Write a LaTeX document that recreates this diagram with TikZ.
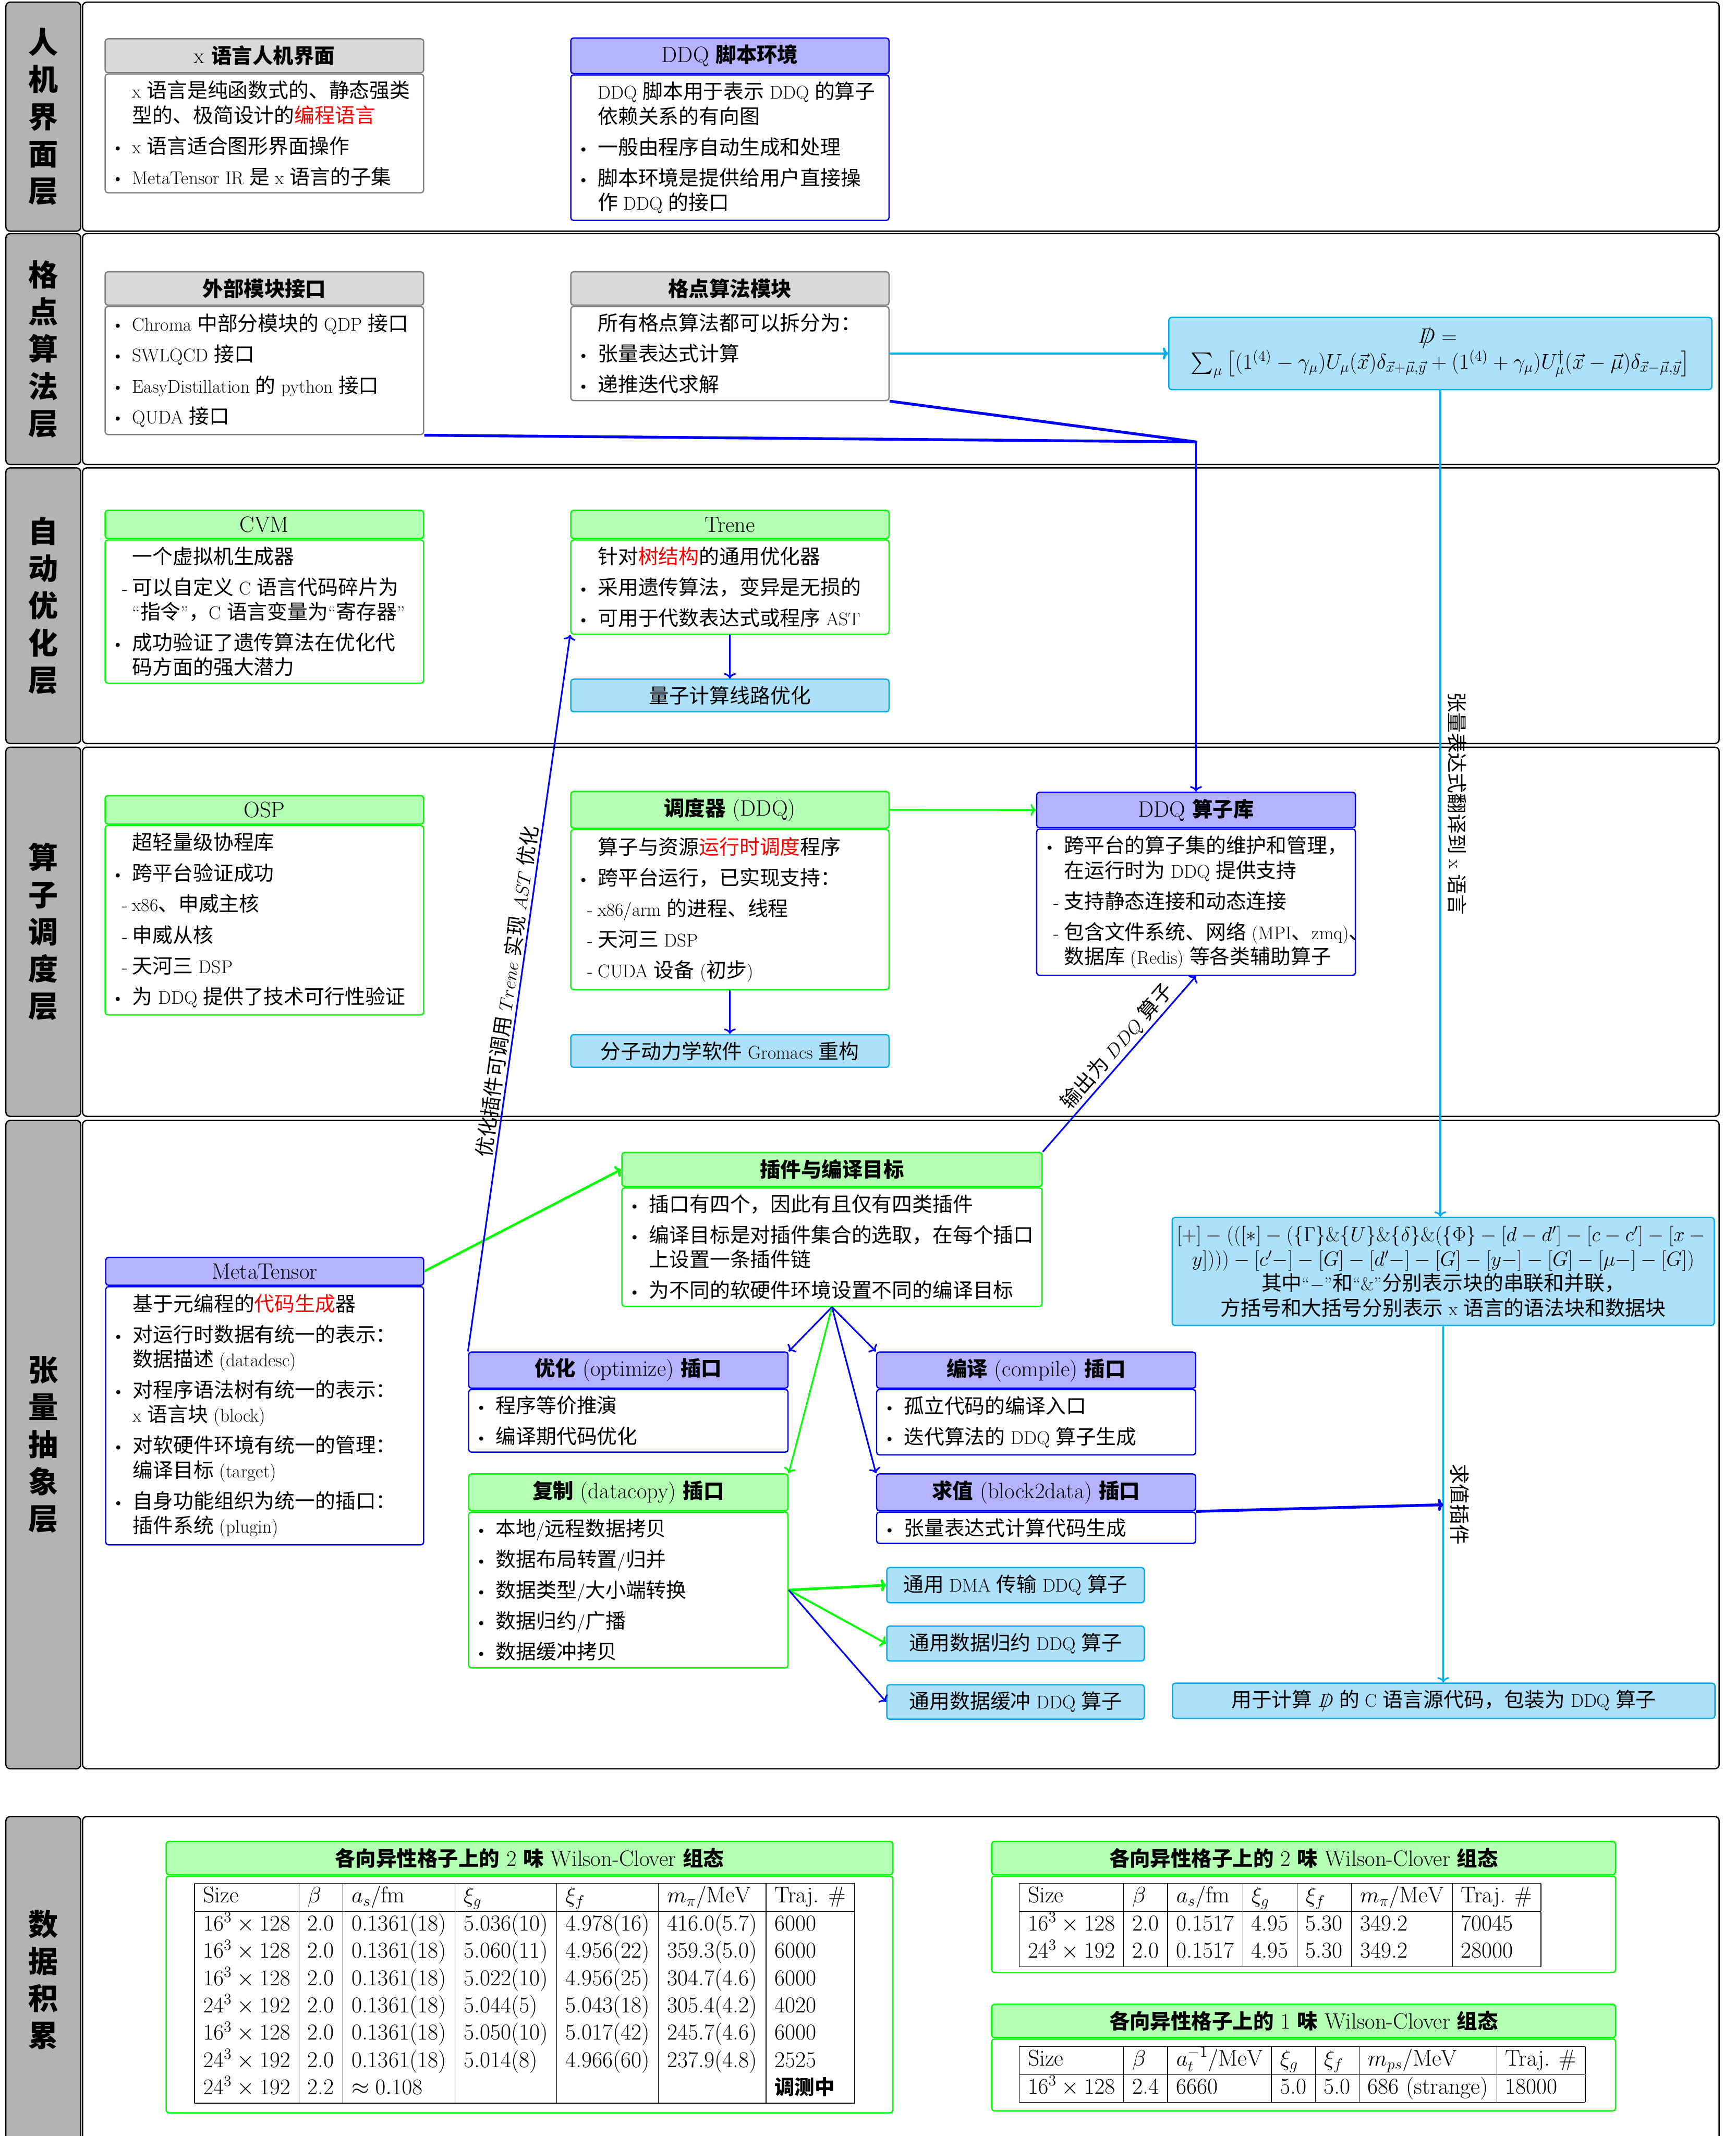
\documentclass[tikz,border=0pt]{standalone}
\usepackage{exscale}
\usepackage{graphicx}
\usepackage{fontspec}
\usetikzlibrary{fit,arrows.meta}
\newfontfamily\cjkfam{Noto Sans CJK SC}[NFSSFamily=notocjk]
\newcount\mycnt
\newXeTeXintercharclass\mycjkclass
\mycnt="2E80\relax
\loop\XeTeXcharclass\mycnt=\mycjkclass\relax\advance\mycnt by 1\relax\ifnum\mycnt<"A000\relax\repeat
\mycnt="FF00\relax
\loop\XeTeXcharclass\mycnt=\mycjkclass\relax\advance\mycnt by 1\relax\ifnum\mycnt<"FFF0\relax\repeat
\XeTeXcharclass"201C=0\relax
\XeTeXcharclass"201D=0\relax
\def\latsz{17}\def\cjksz{18.7}\def\bsz{22.76}\def\cjkser{m}
\newcommand\setfonts[4]{\def\latsz{#1}\def\cjksz{#2}\def\bsz{#3}\def\cjkser{#4}\fontsize{#1}{#3}\selectfont}
\def\cjkon{\fontfamily{notocjk}\fontseries{\cjkser}\fontsize{\cjksz}{\bsz}\selectfont}
\def\cjkoff{\fontfamily{\rmdefault}\fontseries{m}\fontsize{\latsz}{\bsz}\selectfont}
\XeTeXinterchartoks 0 \mycjkclass={\cjkon}
\XeTeXinterchartoks 4095 \mycjkclass={\cjkon}
\XeTeXinterchartoks \mycjkclass 0={\cjkoff}
\XeTeXinterchartoks \mycjkclass 4095={\cjkoff}
\XeTeXinterchartokenstate=1
\definecolor{gryline}{RGB}{128,128,128}
\definecolor{gryfill}{RGB}{217,217,217}
\definecolor{bluline}{RGB}{0,0,255}
\definecolor{blufill}{RGB}{179,179,255}
\definecolor{grnline}{RGB}{0,255,0}
\definecolor{grnfill}{RGB}{179,255,179}
\definecolor{cyanline}{RGB}{0,174,239}
\definecolor{cyanfill}{RGB}{172,225,249}
\definecolor{laygray}{RGB}{179,179,179}
\newcommand\bodyfont{\setfonts{17}{18.7}{22.76}{m}}
\newcommand\hdrfont{\setfonts{20.5}{19}{24}{bx}}
\newcommand\layfont{\setfonts{25}{27.5}{34.3}{bx}}
\newcommand\dslfont{\setfonts{17.28}{19}{22}{m}}
\newcommand\tabfont{\setfonts{21}{18.5}{25.2}{m}\setlength\tabcolsep{8pt}\setlength\arrayrulewidth{0.6pt}}
\newcommand\itmB{\par\leavevmode\llap{\textbullet\hspace{0.25cm}}}
\newcommand\itmD{\par\leavevmode\llap{-\hspace{0.15cm}}}
\newcommand\itmP{\par\leavevmode}
\newcommand\btext[2]{\begin{minipage}{\dimexpr#1+2cm\relax}\fontsize{\latsz}{\bsz}\selectfont\raggedright\leftskip=1.585cm\relax\parskip=0.2cm\relax#2\par\end{minipage}}
\newcommand\Dslash{\ooalign{$D$\cr\hidewidth$/$\hidewidth\cr}}
\newcommand\dbox[9]{%
  \node[hdr=#2, fit={(#3,#5) (#4,#6)}] (#1h) {};
  \node[font=\hdrfont, inner sep=0pt] (#1ht) at (#1h.center) {#8};
  \node[bdy=#2, fit={(#3,#6+1) (#4,#7)}] (#1b) {};
  \node[font=\bodyfont, inner sep=0pt] (#1bt) at (#1b.center) {#9};}
\newcommand\cfbox[7]{%
  \node[cbox, fit={(#2,#4) (#3,#5)}] (#1) {};
  \node[font=#6, align=center, inner sep=0pt] (#1t) at (#1.center) {#7};}
\newcommand\layer[5]{%
  \node[laylab, fit={(4.3,#2) (59.3,#3)}] (lab#1) {};
  \node[font=\layfont, align=center, inner sep=0pt] (lab#1t) at (lab#1.center) {#4};
  \node[panel, fit={(60.6,#2) (1262,#3)}] (pan#1) {};}
\begin{document}
\begin{tikzpicture}[x=0.044207cm,y=-0.044207cm,
  panel/.style={draw=black,line width=1.2pt,fill=white,rounded corners=4pt,inner sep=0pt},
  laylab/.style={draw=black,line width=1.2pt,fill=laygray,rounded corners=4pt,inner sep=0pt},
  hdr/.style={draw=#1line,fill=#1fill,line width=1.2pt,rounded corners=2.5pt,inner sep=0pt},
  bdy/.style={draw=#1line,fill=white,line width=1.2pt,rounded corners=2.5pt,inner sep=0pt},
  cbox/.style={draw=cyanline,fill=cyanfill,line width=1.2pt,rounded corners=2.5pt,inner sep=0pt},
  myarr/.style={-{To[length=5pt,width=11pt]}},
  bluarr/.style={draw=bluline,line width=1.5pt,myarr},
  grnarr/.style={draw=grnline,line width=1.5pt,myarr},
  cyarr/.style={draw=cyanline,line width=1.5pt,myarr},
  rlab/.style={font=\bodyfont,inner sep=2pt},
  vlab/.style={font=\bodyfont,inner sep=6pt}
]
\useasboundingbox (0,0) rectangle (1274,1568);
% ---------------- layers
\layer{1}{1.6}{169.7}{人\\机\\界\\面\\层}{}
\layer{2}{171.5}{341}{格\\点\\算\\法\\层}{}
\layer{3}{343.5}{545.8}{自\\动\\优\\化\\层}{}
\layer{4}{548.5}{819.5}{算\\子\\调\\度\\层}{}
\layer{5}{822.5}{1298.4}{张\\量\\抽\\象\\层}{}
\layer{6}{1333.5}{1573}{数\\据\\积\\累}{}
% ---------------- layer 1
\dbox{hci}{gry}{77.2}{311}{28.5}{53.4}{141.5}{x 语言人机界面}{\btext{9.74cm}{\itmP x 语言是纯函数式的、静态强类\\型的、极简设计的\textcolor{red}{编程语言}\itmB x 语言适合图形界面操作\itmB MetaTensor IR 是 x 语言的子集}}
\dbox{ddq}{blu}{419}{652.6}{27.9}{54}{161.8}{DDQ 脚本环境}{\btext{9.74cm}{\itmP DDQ 脚本用于表示 DDQ 的算子\\依赖关系的有向图\itmB 一般由程序自动生成和处理\itmB 脚本环境是提供给用户直接操\\作 DDQ 的接口}}
% ---------------- layer 2
\dbox{ext}{gry}{77.2}{311}{199.5}{224}{319}{外部模块接口}{\btext{9.74cm}{\itmB Chroma 中部分模块的 QDP 接口\itmB SWLQCD 接口\itmB EasyDistillation 的 python 接口\itmB QUDA 接口}}
\dbox{lat}{gry}{419}{652.6}{199.5}{224}{294}{格点算法模块}{\btext{9.74cm}{\itmP 所有格点算法都可以拆分为：\itmB 张量表达式计算\itmB 递推迭代求解}}
\cfbox{dsl}{858}{1256.6}{233}{286}{\dslfont}{\scalebox{1.145}{\Dslash${}={}$}\\ \scalebox{1.145}{$\sum_\mu\left[(1^{(4)}-\gamma_\mu)U_\mu(\vec{x})\delta_{\vec{x}+\vec{\mu},\vec{y}}+(1^{(4)}+\gamma_\mu)U^\dagger_\mu(\vec{x}-\vec{\mu})\delta_{\vec{x}-\vec{\mu},\vec{y}}\right]$}}
% ---------------- layer 3
\dbox{cvm}{grn}{77.2}{311}{374.6}{395.4}{501.5}{CVM}{\btext{9.74cm}{\itmP 一个虚拟机生成器\itmD 可以自定义 C 语言代码碎片为\\“指令”，C 语言变量为“寄存器”\itmB 成功验证了遗传算法在优化代\\码方面的强大潜力}}
\dbox{tre}{grn}{419}{652.6}{374.6}{395.4}{465.5}{Trene}{\btext{9.74cm}{\itmP 针对\textcolor{red}{树结构}的通用优化器\itmB 采用遗传算法，变异是无损的\itmB 可用于代数表达式或程序 AST}}
\cfbox{qcc}{419}{652.6}{498.6}{522.5}{\bodyfont}{量子计算线路优化}
% ---------------- layer 4
\dbox{osp}{grn}{77.2}{311}{584}{605}{745}{OSP}{\btext{9.74cm}{\itmP 超轻量级协程库\itmB 跨平台验证成功\itmD x86、申威主核\itmD 申威从核\itmD 天河三 DSP\itmB 为 DDQ 提供了技术可行性验证}}
\dbox{sch}{grn}{419}{652.6}{581}{608}{726.4}{调度器 (DDQ)}{\btext{9.74cm}{\itmP 算子与资源\textcolor{red}{运行时调度}程序\itmB 跨平台运行，已实现支持：\itmD x86/arm 的进程、线程\itmD 天河三 DSP\itmD CUDA 设备 (初步)}}
\cfbox{gro}{419}{652.6}{759.5}{783.5}{\bodyfont}{分子动力学软件 Gromacs 重构}
\dbox{lib}{blu}{761}{995}{581.6}{607.6}{716}{DDQ 算子库}{\btext{9.74cm}{\itmB 跨平台的算子集的维护和管理，\\在运行时为 DDQ 提供支持\itmD 支持静态连接和动态连接\itmD 包含文件系统、网络 (MPI、zmq)、\\数据库 (Redis) 等各类辅助算子}}
% ---------------- layer 5
\dbox{met}{blu}{77.6}{311}{923}{943.5}{1134}{MetaTensor}{\btext{9.72cm}{\itmP 基于元编程的\textcolor{red}{代码生成}器\itmB 对运行时数据有统一的表示：\\数据描述 (datadesc)\itmB 对程序语法树有统一的表示：\\x 语言块 (block)\itmB 对软硬件环境有统一的管理：\\编译目标 (target)\itmB 自身功能组织为统一的插口：\\插件系统 (plugin)}}
\dbox{plg}{grn}{456.5}{765}{846}{871}{959}{插件与编译目标}{\btext{13.04cm}{\itmB 插口有四个，因此有且仅有四类插件\itmB 编译目标是对插件集合的选取，在每个插口\\上设置一条插件链\itmB 为不同的软硬件环境设置不同的编译目标}}
\dbox{opt}{blu}{344}{578.5}{992.5}{1019}{1066}{优化 (optimize) 插口}{\btext{9.77cm}{\itmB 程序等价推演\itmB 编译期代码优化}}
\dbox{cmp}{blu}{643.5}{877.7}{992.5}{1019}{1068}{编译 (compile) 插口}{\btext{9.75cm}{\itmB 孤立代码的编译入口\itmB 迭代算法的 DDQ 算子生成}}
\dbox{cpy}{grn}{344}{578.5}{1082}{1109}{1224.4}{复制 (datacopy) 插口}{\btext{9.77cm}{\itmB 本地/远程数据拷贝\itmB 数据布局转置/归并\itmB 数据类型/大小端转换\itmB 数据归约/广播\itmB 数据缓冲拷贝}}
\dbox{evl}{blu}{643.5}{877.7}{1082}{1109}{1133}{求值 (block2data) 插口}{\btext{9.75cm}{\itmB 张量表达式计算代码生成}}
\cfbox{xfm}{860.5}{1258.4}{893.7}{973}{\bodyfont}{\scalebox{1.09}{$[+]-(([\ast]-(\{\Gamma\}\&\{U\}\&\{\delta\}\&(\{\Phi\}-[d-d']-[c-c']-[x-{}$}\\ \scalebox{1.09}{$y])))-[c'-]-[G]-[d'-]-[G]-[y-]-[G]-[\mu-]-[G])$}\\ 其中“$-$”和“\&”分别表示块的串联和并联，\\ 方括号和大括号分别表示 x 语言的语法块和数据块}
\cfbox{dma}{651}{840}{1150.7}{1176.5}{\bodyfont}{通用 DMA 传输 DDQ 算子}
\cfbox{rdc}{651}{840}{1193.7}{1219.3}{\bodyfont}{通用数据归约 DDQ 算子}
\cfbox{buf}{651}{840}{1236.7}{1262}{\bodyfont}{通用数据缓冲 DDQ 算子}
\cfbox{csr}{860.7}{1258.9}{1235.6}{1261.4}{\bodyfont}{用于计算 \Dslash{} 的 C 语言源代码，包装为 DDQ 算子}
% ---------------- layer 6
\dbox{tba}{grn}{122}{655.4}{1351.7}{1376.2}{1551}{各向异性格子上的 2 味 Wilson-Clover 组态}{}
\dbox{tbb}{grn}{728}{1186}{1351.7}{1376.2}{1448}{各向异性格子上的 2 味 Wilson-Clover 组态}{}
\dbox{tbc}{grn}{728}{1186}{1471.3}{1495.8}{1549.5}{各向异性格子上的 1 味 Wilson-Clover 组态}{}
\node[anchor=north west, inner sep=0pt, font=\tabfont] (taba) at (142.6,1382.2) {\begin{tabular}{|l|l|l|l|l|l|l|}\hline
Size & $\beta$ & $a_s/\mathrm{fm}$ & $\xi_g$ & $\xi_f$ & $m_\pi/\mathrm{MeV}$ & Traj. \#\\\hline
$16^3\times128$ & 2.0 & 0.1361(18) & 5.036(10) & 4.978(16) & 416.0(5.7) & 6000\\
$16^3\times128$ & 2.0 & 0.1361(18) & 5.060(11) & 4.956(22) & 359.3(5.0) & 6000\\
$16^3\times128$ & 2.0 & 0.1361(18) & 5.022(10) & 4.956(25) & 304.7(4.6) & 6000\\
$24^3\times192$ & 2.0 & 0.1361(18) & 5.044(5) & 5.043(18) & 305.4(4.2) & 4020\\
$16^3\times128$ & 2.0 & 0.1361(18) & 5.050(10) & 5.017(42) & 245.7(4.6) & 6000\\
$24^3\times192$ & 2.0 & 0.1361(18) & 5.014(8) & 4.966(60) & 237.9(4.8) & 2525\\
$24^3\times192$ & 2.2 & $\approx0.108$ & & & & {\def\cjkser{bx}调测中}\\\hline
\end{tabular}};
\node[anchor=north west, inner sep=0pt, font=\tabfont] (tabb) at (748,1382.2) {\begin{tabular}{|l|l|l|l|l|l|l|}\hline
Size & $\beta$ & $a_s/\mathrm{fm}$ & $\xi_g$ & $\xi_f$ & $m_\pi/\mathrm{MeV}$ & Traj. \#\\\hline
$16^3\times128$ & 2.0 & 0.1517 & 4.95 & 5.30 & 349.2 & 70045\\
$24^3\times192$ & 2.0 & 0.1517 & 4.95 & 5.30 & 349.2 & 28000\\\hline
\end{tabular}};
\node[anchor=north west, inner sep=0pt, font=\tabfont] (tabc) at (748,1502) {\begin{tabular}{|l|l|l|l|l|l|l|}\hline
Size & $\beta$ & $a_t^{-1}/\mathrm{MeV}$ & $\xi_g$ & $\xi_f$ & $m_{ps}/\mathrm{MeV}$ & Traj. \#\\\hline
$16^3\times128$ & 2.4 & 6660 & 5.0 & 5.0 & 686 (strange) & 18000\\\hline
\end{tabular}};
% ---------------- connectors
\coordinate (conv) at (878,324.4);
\draw[draw=bluline, line width=2.6pt, line join=round] (extb.south east) -- (conv) -- (latb.south east);
\draw[bluarr] (conv) -- (libh.north);
\draw[cyarr, line width=2.2pt] (latb.east) -- (latb.east -| dsl.west);
\draw[bluarr] (treb.south) -- (qcc.north);
\draw[bluarr] (schb.south) -- (gro.north);
\draw[grnarr] (schh.east) -- (libh.west);
\draw[grnarr, line width=2.2pt] (meth.east) -- (plgh.west);
\draw[bluarr] (plgh.north east) -- node[pos=0.55, sloped, above, rlab] {输出为 $DDQ$ 算子} (libb.south);
\draw[bluarr] (plgb.south) -- (opth.north east);
\draw[grnarr] (plgb.south) -- (cpyh.north east);
\draw[bluarr] (plgb.south) -- (cmph.north west);
\draw[bluarr] (plgb.south) -- (evlh.north west);
\draw[bluarr] (opth.north west) -- node[sloped, above, rlab] {优化插件可调用 $Trene$ 实现 $AST$ 优化} (treb.south west);
\draw[grnarr, line width=2.4pt] (cpyb.east) -- (dma.west);
\draw[grnarr, line width=1.8pt] (cpyb.east) -- (rdc.west);
\draw[bluarr] (cpyb.east) -- (buf.west);
\draw[cyarr] (dsl.south) -- node[rotate=-90, anchor=south, vlab] {张量表达式翻译到 x 语言} (dsl.south |- xfm.north);
\draw[cyarr] (xfm.south) -- node[rotate=-90, anchor=south, vlab] {求值插件} (xfm.south |- csr.north);
\coordinate (yref) at (0,1104.6);
\coordinate (evin) at (xfm.south |- yref);
\draw[draw=bluline, line width=2.6pt, myarr] (evlh.south east) -- (evin);
\end{tikzpicture}
\end{document}
